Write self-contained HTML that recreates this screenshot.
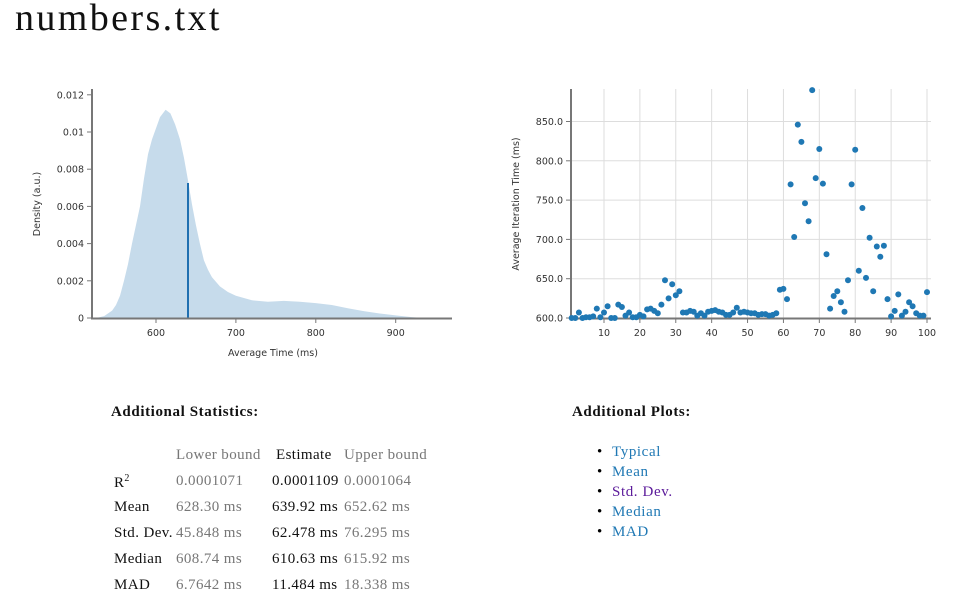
<!DOCTYPE html>
<html><head><meta charset="utf-8">
<style>
html,body{margin:0;padding:0;background:#fff;width:970px;height:615px;overflow:hidden;position:relative;font-family:"Liberation Serif",serif;}
.a{position:absolute;white-space:nowrap;}
h1{position:absolute;left:15px;top:-4px;margin:0;font-weight:normal;font-size:38px;letter-spacing:2.4px;font-family:"Liberation Serif",serif;color:#111;}
.h3{font-weight:bold;font-size:15px;letter-spacing:0.6px;color:#111;}
.t{font-size:15px;letter-spacing:0.4px;color:#111;}
.g{color:#777;}
.l{color:#1f78b4;font-size:15px;letter-spacing:0.6px;}
.b{font-size:15px;}
svg text{font-family:"DejaVu Sans","Liberation Sans",sans-serif;font-size:9.5px;fill:#333;}
</style></head><body>
<h1>numbers.txt</h1>
<svg id="s" width="970" height="400" style="position:absolute;left:0;top:0"></svg>
<div class="a h3" style="left:111px;top:404px">Additional Statistics:</div>
<div class="a h3" style="left:572px;top:404px">Additional Plots:</div>
<div class="a t g" style="left:176px;top:447px">Lower bound</div>
<div class="a t" style="left:276px;top:447px">Estimate</div>
<div class="a t g" style="left:344px;top:447px">Upper bound</div>

<div class="a t" style="left:114px;top:473px">R<sup style="font-size:10px">2</sup></div>
<div class="a t g" style="left:176px;top:473px">0.0001071</div>
<div class="a t" style="left:272px;top:473px">0.0001109</div>
<div class="a t g" style="left:344px;top:473px">0.0001064</div>

<div class="a t" style="left:114px;top:499px">Mean</div>
<div class="a t g" style="left:176px;top:499px">628.30 ms</div>
<div class="a t" style="left:272px;top:499px">639.92 ms</div>
<div class="a t g" style="left:344px;top:499px">652.62 ms</div>

<div class="a t" style="left:114px;top:525px">Std. Dev.</div>
<div class="a t g" style="left:176px;top:525px">45.848 ms</div>
<div class="a t" style="left:272px;top:525px">62.478 ms</div>
<div class="a t g" style="left:344px;top:525px">76.295 ms</div>

<div class="a t" style="left:114px;top:551px">Median</div>
<div class="a t g" style="left:176px;top:551px">608.74 ms</div>
<div class="a t" style="left:272px;top:551px">610.63 ms</div>
<div class="a t g" style="left:344px;top:551px">615.92 ms</div>

<div class="a t" style="left:114px;top:577px">MAD</div>
<div class="a t g" style="left:176px;top:577px">6.7642 ms</div>
<div class="a t" style="left:272px;top:577px">11.484 ms</div>
<div class="a t g" style="left:344px;top:577px">18.338 ms</div>

<div class="a b" style="left:597px;top:444px">•</div><div class="a l" style="left:612px;top:444px">Typical</div>
<div class="a b" style="left:597px;top:464px">•</div><div class="a l" style="left:612px;top:464px">Mean</div>
<div class="a b" style="left:597px;top:484px">•</div><div class="a l" style="left:612px;top:484px;color:#5b1a9a">Std. Dev.</div>
<div class="a b" style="left:597px;top:504px">•</div><div class="a l" style="left:612px;top:504px">Median</div>
<div class="a b" style="left:597px;top:524px">•</div><div class="a l" style="left:612px;top:524px">MAD</div>
<script>
var s='';
function lx(v){return 156+(v-600)*0.799;}
function ly(d){return 318-d/0.002*37.2;}
var dens=[[525,0],[535,0.0001],[545,0.0004],[550,0.0007],[555,0.0012],[560,0.002],[565,0.0029],[570,0.004],[575,0.005],[580,0.006],[585,0.0075],[590,0.0088],[595,0.0096],[600,0.0102],[605,0.0108],[612,0.0112],[618,0.0110],[624,0.0104],[630,0.0096],[635,0.0086],[640,0.0074],[645,0.0061],[650,0.0050],[655,0.004],[660,0.0031],[665,0.0026],[670,0.0022],[680,0.0017],[690,0.0014],[700,0.0012],[720,0.00095],[740,0.00087],[760,0.00092],[780,0.00087],[800,0.0008],[820,0.0007],[840,0.00052],[860,0.00037],[880,0.00024],[900,0.00014],[920,0.00005],[935,0]];
var p='M'+lx(525)+','+318;
dens.forEach(function(d){p+=' L'+lx(d[0]).toFixed(1)+','+ly(d[1]).toFixed(1);});
p+=' Z';
s+='<path d="'+p+'" fill="#c6dbeb"/>';
s+='<line x1="188" y1="183" x2="188" y2="318" stroke="#1f6fb0" stroke-width="2"/>';
s+='<line x1="92" y1="89" x2="92" y2="319" stroke="#777" stroke-width="2"/>';
s+='<line x1="91" y1="318.5" x2="452" y2="318.5" stroke="#777" stroke-width="2"/>';
for(var i=0;i<=6;i++){var y=ly(i*0.002);var lab=i==0?'0':(i*0.002).toFixed(3).replace(/0+$/,'');
s+='<line x1="87" y1="'+y+'" x2="92" y2="'+y+'" stroke="#777"/>';
s+='<text x="84" y="'+(y+3.5)+'" text-anchor="end">'+lab+'</text>';}
[600,700,800,900].forEach(function(v){var x=lx(v);s+='<line x1="'+x+'" y1="318" x2="'+x+'" y2="323" stroke="#777"/><text x="'+x+'" y="336" text-anchor="middle">'+v+'</text>';});
s+='<text x="273" y="356" text-anchor="middle">Average Time (ms)</text>';
s+='<text transform="translate(40,204) rotate(-90)" text-anchor="middle">Density (a.u.)</text>';
function rx(i){return 568.1+i*3.589;}
function ry(v){return 318-(v-600)*0.786;}
for(var k=10;k<=100;k+=10){var x=rx(k);s+='<line x1="'+x+'" y1="89" x2="'+x+'" y2="318" stroke="#ddd"/><line x1="'+x+'" y1="318" x2="'+x+'" y2="323" stroke="#777"/><text x="'+x+'" y="336" text-anchor="middle">'+k+'</text>';}
for(var v=600;v<=850;v+=50){var y=ry(v);s+='<line x1="571" y1="'+y+'" x2="931" y2="'+y+'" stroke="#ddd"/><line x1="566" y1="'+y+'" x2="571" y2="'+y+'" stroke="#777"/><text x="563" y="'+(y+3.5)+'" text-anchor="end">'+v.toFixed(1)+'</text>';}
s+='<line x1="571" y1="89" x2="571" y2="319" stroke="#777" stroke-width="2"/>';
s+='<line x1="570" y1="318.5" x2="931" y2="318.5" stroke="#777" stroke-width="2"/>';
s+='<text transform="translate(519,204) rotate(-90)" text-anchor="middle">Average Iteration Time (ms)</text>';
var d=[600,600,607,600,601,601,602,612,601,607,615,600,600,617,614,603,607,601,601,604,602,611,612,609,606,617,648,625,643,629,634,607,607,609,608,603,606,603,608,609,610,608,607,604,604,607,613,607,608,607,606,606,604,605,605,603,604,606,636,637,624,770,703,846,824,746,723,890,778,815,771,681,612,628,634,620,608,648,770,814,660,740,651,702,634,691,678,692,624,602,609,630,603,608,620,615,606,603,603,633];
d.forEach(function(v,i){s+='<circle cx="'+rx(i+1).toFixed(1)+'" cy="'+ry(v).toFixed(1)+'" r="3" fill="#1f78b4"/>';});
document.getElementById('s').innerHTML=s;
</script>
</body></html>
